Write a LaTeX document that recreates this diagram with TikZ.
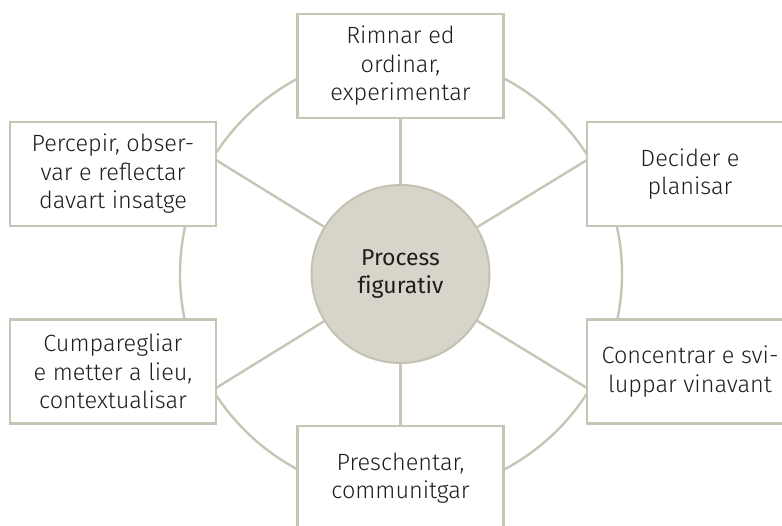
\documentclass[tikz,border=0pt]{standalone}
\usepackage{fontspec}
\setmainfont{Fira Sans}[Ligatures=NoCommon]
\newfontfamily\lightf{Fira Sans Light}
\usetikzlibrary{backgrounds}
\definecolor{linec}{RGB}{200,197,182}
\definecolor{circfill}{RGB}{215,213,202}
\definecolor{circline}{RGB}{196,193,178}
\definecolor{txt}{RGB}{30,30,30}
\tikzset{
  stepbox/.style={draw=linec, line width=2.6pt, fill=white, minimum width=206pt, minimum height=104pt, align=center, text=txt, font=\lightf\fontsize{23.5}{28.5}\selectfont, inner sep=0pt},
  conn/.style={draw=linec, line width=2.4pt},
}
\begin{document}
\begin{tikzpicture}[x=1pt,y=-1pt]
\useasboundingbox (0,0) rectangle (782,526);
\clip (0,0) rectangle (782,526);
\coordinate (ringc) at (401,274);
\node[stepbox] (top) at (400.5,66) {Rimnar ed\\ordinar,\\experimentar};
\node[stepbox] (bot) at (400.5,478) {Preschentar,\\communitgar};
\node[stepbox] (ul) at (113,174) {Percepir, obser-\\var e reflectar\\davart insatge};
\node[stepbox] (ur) at (690,174) {Decider e\\planisar};
\node[stepbox] (ll) at (113,371.5) {Cumparegliar\\e metter a lieu,\\contextualisar};
\node[stepbox] (lr) at (690,371.5) {Concentrar e svi-\\luppar vinavant};
\node[circle, fill=circfill, draw=circline, line width=2pt, minimum size=178pt, inner sep=0pt, align=center, text=txt, font=\fontsize{23}{28.5}\selectfont] (cc) at (400.5,274) {Process\\figurativ};
\coordinate (ulp) at (216,160);
\coordinate (urp) at (587,160);
\coordinate (llp) at (216,388);
\coordinate (lrp) at (587,388);
\begin{scope}[on background layer]
\draw[conn] (ringc) circle[radius=221];
\draw[conn] (cc) -- (top.south);
\draw[conn] (cc) -- (bot.north);
\draw[conn] (cc) -- (ulp);
\draw[conn] (cc) -- (urp);
\draw[conn] (cc) -- (llp);
\draw[conn] (cc) -- (lrp);
\end{scope}
\end{tikzpicture}
\end{document}
